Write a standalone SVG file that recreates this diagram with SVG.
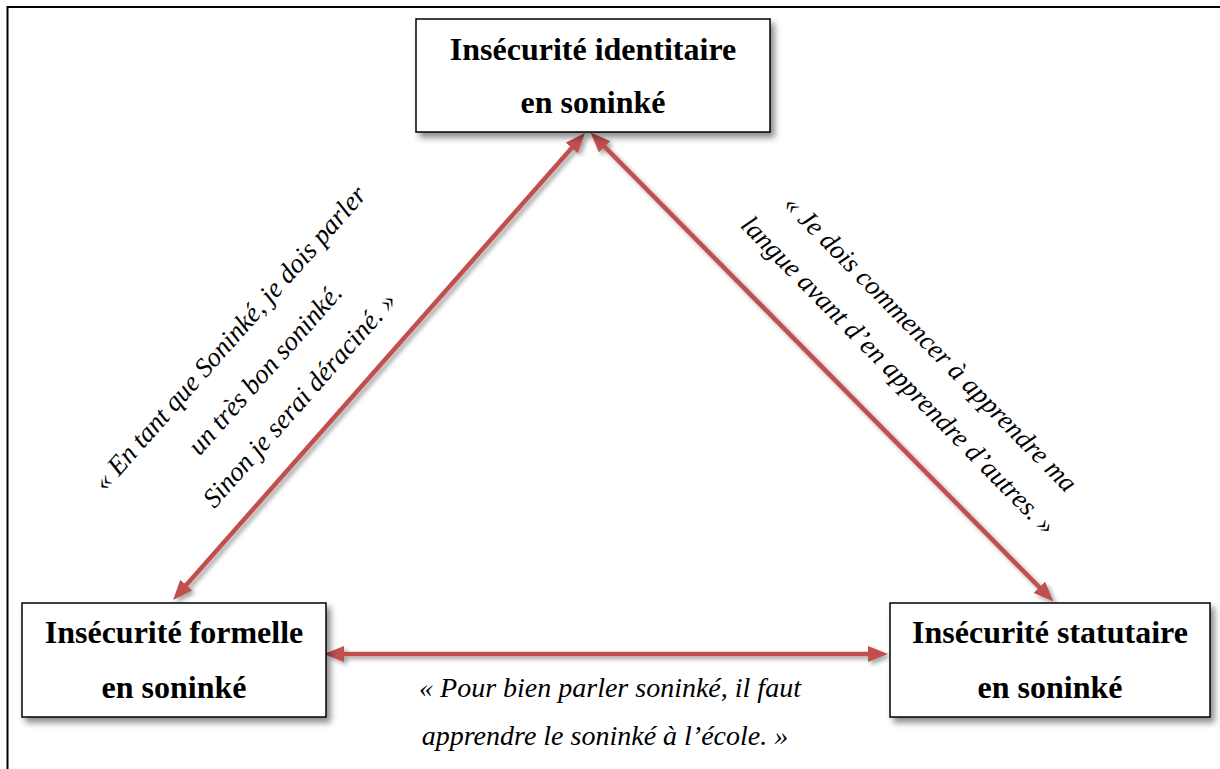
<svg xmlns="http://www.w3.org/2000/svg" width="1220" height="769" viewBox="0 0 1220 769">
  <style>
    .box { fill: #ffffff; stroke: #000000; stroke-width: 1.5; filter: url(#shadow); }
    .bold { font-family: "Liberation Serif", "Times New Roman", serif; font-weight: bold; font-size: 32px; fill: #000; text-anchor: middle; }
    .quote { font-family: "Liberation Serif", "Times New Roman", serif; font-style: italic; font-size: 27px; fill: #000; text-anchor: middle; }
    .conn { stroke: #C0504D; stroke-width: 4.5; fill: none; marker-start: url(#ah); marker-end: url(#ah); filter: url(#ashadow); }
  </style>
  <defs>
    <filter id="shadow" x="-10%" y="-10%" width="130%" height="140%">
      <feDropShadow dx="4" dy="5" stdDeviation="3" flood-color="#000" flood-opacity="0.45"/>
    </filter>
    <filter id="ashadow" filterUnits="userSpaceOnUse" x="0" y="0" width="1220" height="769">
      <feDropShadow dx="3" dy="3" stdDeviation="2" flood-color="#000" flood-opacity="0.35"/>
    </filter>
    <marker id="ah" viewBox="0 0 20 16" markerWidth="20" markerHeight="16" refX="8" refY="8" orient="auto-start-reverse" markerUnits="userSpaceOnUse">
      <path d="M0,0 L20,8 L0,16 z" fill="#C0504D"/>
    </marker>
  </defs>
  <rect width="1220" height="769" fill="#ffffff"/>
  <!-- frame -->
  <path d="M7.5,769 L7.5,7 L1220,7" fill="none" stroke="#000" stroke-width="2"/>

  <g id="connectors">
    <line class="conn" x1="577" y1="142" x2="181" y2="591"/>
    <line class="conn" x1="599" y1="141" x2="1045" y2="593"/>
    <line class="conn" x1="336" y1="654" x2="876" y2="654"/>
  </g>

  <g id="node-identitaire">
    <rect class="box" x="416" y="19" width="354" height="113"/>
    <text class="bold" x="593" y="60">Insécurité identitaire</text>
    <text class="bold" x="593" y="113">en soninké</text>
  </g>
  <g id="node-formelle">
    <rect class="box" x="22" y="603" width="304" height="114"/>
    <text class="bold" x="174" y="643">Insécurité formelle</text>
    <text class="bold" x="174" y="698">en soninké</text>
  </g>
  <g id="node-statutaire">
    <rect class="box" x="890" y="603" width="320" height="114"/>
    <text class="bold" x="1050" y="643">Insécurité statutaire</text>
    <text class="bold" x="1050" y="698">en soninké</text>
  </g>

  <g id="label-left" transform="translate(267.9,371.8) rotate(-48.5)">
    <text class="quote" x="0" y="-42">« En tant que Soninké, je dois parler</text>
    <text class="quote" x="0" y="5">un très bon soninké.</text>
    <text class="quote" x="0" y="51">Sinon je serai déraciné. »</text>
  </g>
  <g id="label-right" transform="translate(913.3,360.6) rotate(45.4)">
    <text class="quote" x="0" y="-15.5">« Je dois commencer à apprendre ma</text>
    <text class="quote" x="0" y="29.5">langue avant d’en apprendre d’autres. »</text>
  </g>
  <g id="label-bottom">
    <text class="quote" x="610" y="697" style="font-size:28px">« Pour bien parler soninké, il faut</text>
    <text class="quote" x="605" y="745" style="font-size:28px">apprendre le soninké à l’école. »</text>
  </g>
</svg>
